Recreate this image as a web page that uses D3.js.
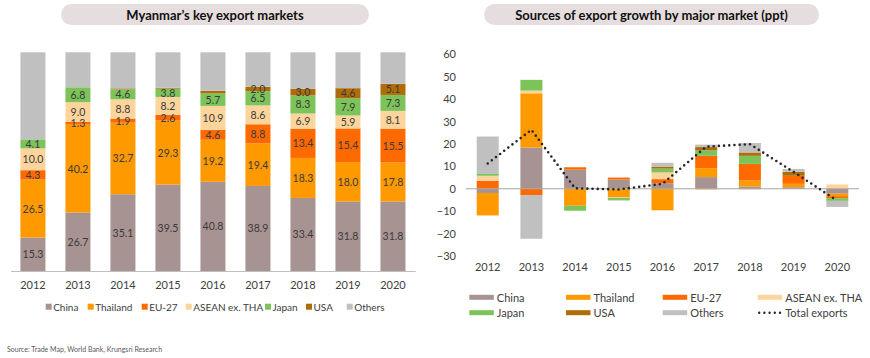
<!DOCTYPE html>
<html>
<head>
<meta charset="utf-8">
<script src="https://cdn.jsdelivr.net/npm/d3@7/dist/d3.min.js"></script>
<style>
  body { margin: 0; background: #fff; }
  svg text { font-family: Lato, "Open Sans", sans-serif; }
</style>
</head>
<body>
<svg id="chart" width="870" height="358"></svg>
<script>
// ---------- DATA ----------
const years = ["2012","2013","2014","2015","2016","2017","2018","2019","2020"];
const seriesNames = ["China","Thailand","EU-27","ASEAN ex. THA","Japan","USA","Others"];
const seriesColors = ["#a89393","#ff9900","#ff6a00","#fdd59c","#7cc35a","#b06c08","#c0c0c0"];

// Left: share of exports (%)
const shareChina    = [15.3, 26.7, 35.1, 39.5, 40.8, 38.9, 33.4, 31.8, 31.8];
const shareThailand = [26.5, 40.2, 32.7, 29.3, 19.2, 19.4, 18.3, 18.0, 17.8];
const shareEU       = [4.3, 1.3, 1.9, 2.6, 4.6, 8.8, 13.4, 15.4, 15.5];
const shareASEAN    = [10.0, 9.0, 8.8, 8.2, 10.9, 8.6, 6.9, 5.9, 8.1];
const shareJapan    = [4.1, 6.8, 4.6, 3.8, 5.7, 6.5, 8.3, 7.9, 7.3];
const shareUSA      = [0.0, 0.0, 0.4, 0.4, 1.2, 2.0, 3.0, 4.6, 5.1];
const shareOthers   = [39.8, 16.0, 16.5, 16.2, 17.6, 15.8, 16.7, 16.4, 14.4];
// which USA shares carry a label in the reference
const usaLabelled   = [false, false, false, false, false, true, true, true, true];

// Right: contribution to export growth (ppt)
const gChina    = [-1.9, 18.4, 8.5, 4.1, 2.5, 5.2, 1.0, 0.7, -2.2];
const gThailand = [-10.0, 24.2, -7.6, -3.8, -9.6, 4.0, 2.7, 1.5, -1.1];
const gEU       = [3.6, -2.8, 1.1, 0.9, 1.8, 5.5, 7.4, 3.6, -0.9];
const gASEAN    = [2.2, 1.2, 0.0, -0.2, 3.0, -0.5, -0.4, 0.0, 1.9];
const gJapan    = [0.8, 4.8, -2.2, -1.0, 1.7, 2.4, 3.6, 0.0, -1.2];
const gUSA      = [0.0, 0.0, 0.0, 0.0, 0.9, 1.5, 1.5, 1.8, 0.0];
const gOthers   = [16.7, -19.5, 0.0, -0.3, 1.7, 1.1, 4.2, 1.2, -2.7];
const totalExports = [11.3, 26.3, 0.2, -0.3, 2.2, 18.8, 19.9, 7.5, -5.3];

const rightTicks = [60, 50, 40, 30, 20, 10, 0, -10, -20, -30];

const titleLeft = "Myanmar’s key export markets";
const titleRight = "Sources of export growth by major market (ppt)";
const sourceText = "Source: Trade Map, World Bank, Krungsri Research";

// ---------- SETUP ----------
const svg = d3.select("#chart");
const textColor = "#404040";

function pill(x0, x1, y0, y1, label) {
  svg.append("rect").attr("x", x0).attr("y", y0).attr("width", x1 - x0).attr("height", y1 - y0)
    .attr("rx", (y1 - y0) / 2).attr("fill", "#e6dede");
  svg.append("text").attr("x", (x0 + x1) / 2).attr("y", (y0 + y1) / 2)
    .attr("text-anchor", "middle").attr("dominant-baseline", "central")
    .attr("font-size", 13).attr("font-weight", "bold").attr("fill", "#111").text(label);
}
pill(61, 369, 4, 25, titleLeft);
pill(484, 819, 4, 25, titleRight);

// ---------- LEFT CHART ----------
const shareSeries = [shareChina, shareThailand, shareEU, shareASEAN, shareJapan, shareUSA, shareOthers];
const leftRows = years.map((y, i) => {
  const r = { year: y, idx: i };
  seriesNames.forEach((s, k) => r[s] = shareSeries[k][i]);
  return r;
});
const xL = d3.scaleBand().domain(years).range([10.7, 415.2]).paddingInner(0.444).paddingOuter(0.216);
const yL = d3.scaleLinear().domain([0, 100]).range([271, 52.3]);
const stackL = d3.stack().keys(seriesNames).offset(d3.stackOffsetExpand)(leftRows);

const gL = svg.append("g");
stackL.forEach((layer, k) => {
  gL.selectAll(null).data(layer).enter().append("rect")
    .attr("x", d => xL(d.data.year))
    .attr("width", xL.bandwidth())
    .attr("y", d => yL(d[1] * 100))
    .attr("height", d => yL(d[0] * 100) - yL(d[1] * 100))
    .attr("fill", seriesColors[k]);
});
stackL.forEach((layer, k) => {
  const name = seriesNames[k];
  if (name === "Others") return;
  const shown = layer.filter(d => name === "USA" ? usaLabelled[d.data.idx] : true);
  gL.selectAll(null).data(shown).enter().append("text")
    .attr("x", d => xL(d.data.year) + xL.bandwidth() / 2)
    .attr("y", d => yL((d[0] + d[1]) / 2 * 100))
    .attr("text-anchor", "middle").attr("dominant-baseline", "central")
    .attr("font-size", 10.5).attr("fill", "#3a3a3a")
    .text(d => d.data[name].toFixed(1));
});
const axL = svg.append("g").attr("transform", "translate(0,271)")
  .call(d3.axisBottom(xL).tickSize(0).tickPadding(10));
axL.select(".domain").attr("stroke", "#bfbfbf");
axL.selectAll("text").attr("font-size", 11).attr("fill", textColor).attr("font-family", "Lato, sans-serif");

// left legend
const legLX = [45.7, 87.7, 141.7, 185.7, 265, 306, 346.7];
seriesNames.forEach((s, k) => {
  svg.append("rect").attr("x", legLX[k]).attr("y", 303.7).attr("width", 6).attr("height", 6).attr("fill", seriesColors[k]);
  svg.append("text").attr("x", legLX[k] + 7.5).attr("y", 306.7).attr("dominant-baseline", "central")
    .attr("font-size", 10).attr("fill", textColor).text(s);
});

svg.append("text").attr("x", 7).attr("y", 349).attr("dominant-baseline", "central")
  .attr("font-size", 7).attr("fill", "#595959").text(sourceText);

// ---------- RIGHT CHART ----------
const growthSeries = [gChina, gThailand, gEU, gASEAN, gJapan, gUSA, gOthers];
const rightRows = years.map((y, i) => {
  const r = { year: y };
  seriesNames.forEach((s, k) => r[s] = growthSeries[k][i]);
  return r;
});
const xR = d3.scaleBand().domain(years).range([466, 859]).paddingInner(0.496).paddingOuter(0.245);
const yR = d3.scaleLinear().domain([-30, 60]).range([256, 54.3]);
const stackR = d3.stack().keys(seriesNames).offset(d3.stackOffsetDiverging)(rightRows);

const gR = svg.append("g");
stackR.forEach((layer, k) => {
  gR.selectAll(null).data(layer).enter().append("rect")
    .attr("x", d => xR(d.data.year))
    .attr("width", xR.bandwidth())
    .attr("y", d => yR(Math.max(d[0], d[1])))
    .attr("height", d => Math.abs(yR(d[0]) - yR(d[1])))
    .attr("fill", seriesColors[k]);
});
// zero line
svg.append("line").attr("x1", 466).attr("x2", 859).attr("y1", yR(0)).attr("y2", yR(0))
  .attr("stroke", "#a6a6a6").attr("stroke-width", 1);

// y axis labels
const ayR = svg.append("g").attr("transform", "translate(456,0)")
  .call(d3.axisLeft(yR).tickValues(rightTicks).tickSize(0).tickPadding(0).tickFormat(d3.format("d")));
ayR.select(".domain").remove();
ayR.selectAll("text").attr("font-size", 11).attr("fill", textColor).attr("font-family", "Lato, sans-serif");

// x axis labels
const axR = svg.append("g").attr("transform", "translate(0,263)")
  .call(d3.axisBottom(xR).tickSize(0).tickPadding(0));
axR.select(".domain").remove();
axR.selectAll("text").attr("font-size", 11).attr("fill", textColor).attr("font-family", "Lato, sans-serif");

// total exports dotted line
const line = d3.line().x((d, i) => xR(years[i]) + xR.bandwidth() / 2).y(d => yR(d));
svg.append("path").datum(totalExports).attr("d", line)
  .attr("fill", "none").attr("stroke", "#262626").attr("stroke-width", 2.6)
  .attr("stroke-linecap", "round").attr("stroke-dasharray", "0 5.2");

// right legend
const legCols = [469.3, 566, 662.7, 757.7];
const legRows = [297.3, 312.7];
const legItems = seriesNames.map((s, k) => ({ name: s, color: seriesColors[k], type: "bar" }))
  .concat([{ name: "Total exports", color: "#262626", type: "line" }]);
legItems.forEach((it, j) => {
  const x = legCols[j % 4], y = legRows[Math.floor(j / 4)];
  if (it.type === "bar") {
    svg.append("rect").attr("x", x).attr("y", y - 2.5).attr("width", 24.5).attr("height", 5).attr("fill", it.color);
  } else {
    svg.append("line").attr("x1", x + 1.5).attr("x2", x + 23).attr("y1", y).attr("y2", y)
      .attr("stroke", it.color).attr("stroke-width", 2.4).attr("stroke-linecap", "round").attr("stroke-dasharray", "0 5.2");
  }
  svg.append("text").attr("x", x + 27.5).attr("y", y).attr("dominant-baseline", "central")
    .attr("font-size", 11).attr("fill", textColor).text(it.name);
});
</script>
</body>
</html>
